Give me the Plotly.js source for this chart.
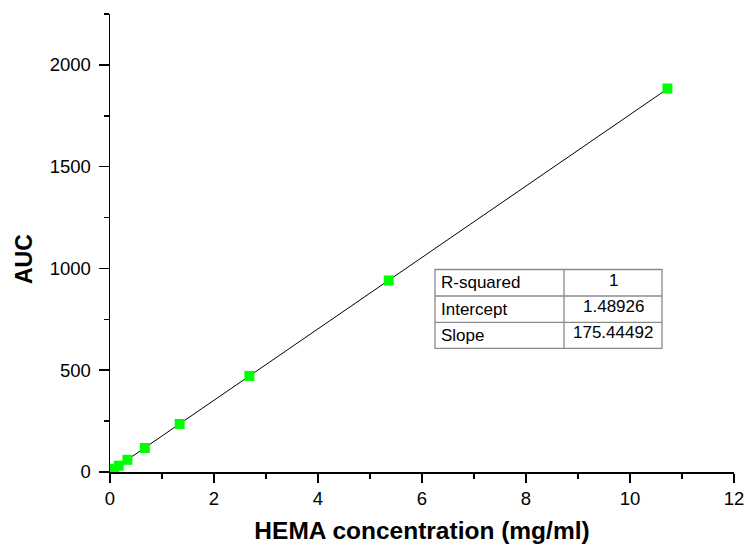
<!DOCTYPE html>
<html>
<head>
<meta charset="utf-8">
<script src="https://cdn.plot.ly/plotly-3.0.1.min.js"></script>
<style>html,body{margin:0;padding:0;background:#fff;}#chart{width:745px;height:548px;}</style>
</head>
<body>
<div id="chart"></div>
<script>
// Data
const concentration = [0.084, 0.168, 0.335, 0.67, 1.34, 2.68, 5.36, 10.72];
const auc = [16, 31, 60, 118, 236, 472, 941, 1884];
const fitRange = [0, 10.72];
const rSquared = "1";
const intercept = 1.48926;
const slope = 175.44492;
const tableLabels = ["R-squared", "Intercept", "Slope"];
const tableValues = [rSquared, intercept.toFixed(5), slope.toFixed(5)];
const xTitle = "HEMA concentration (mg/ml)";
const yTitle = "AUC";

const fitY = fitRange.map(x => intercept + slope * x);

const font = "Liberation Sans, Arial, sans-serif";

// table geometry (paper coords)
const W = 745, H = 548, L = 110, R = 11, T = 14, B = 76;
const pw = W - L - R, ph = H - T - B;
const px = p => (p - L) / pw;
const py = p => (H - B - p) / ph;
const tx0 = 435, tx1 = 564, tx2 = 662;
const rows = [269.5, 296, 322.3, 348.3];

const border = {color: "#8a8a8a", width: 1.3};
const shapes = [
  {type: "rect", xref: "paper", yref: "paper", x0: px(tx0), x1: px(tx2), y0: py(rows[3]), y1: py(rows[0]), line: border, fillcolor: "#ffffff", layer: "above"},
  {type: "line", xref: "paper", yref: "paper", x0: px(tx1), x1: px(tx1), y0: py(rows[3]), y1: py(rows[0]), line: border},
  {type: "line", xref: "paper", yref: "paper", x0: px(tx0), x1: px(tx2), y0: py(rows[1]), y1: py(rows[1]), line: border},
  {type: "line", xref: "paper", yref: "paper", x0: px(tx0), x1: px(tx2), y0: py(rows[2]), y1: py(rows[2]), line: border}
];
const annotations = [];
for (let i = 0; i < 3; i++) {
  const yc = py((rows[i] + rows[i + 1]) / 2);
  annotations.push({xref: "paper", yref: "paper", x: px(tx0 + 4), y: yc, xanchor: "left", yanchor: "middle",
    text: tableLabels[i], showarrow: false, font: {family: font, size: 17, color: "#000"}});
  annotations.push({xref: "paper", yref: "paper", x: px((tx1 + tx2) / 2), y: yc + 0.006, xanchor: "center", yanchor: "middle",
    text: tableValues[i], showarrow: false, font: {family: font, size: 17, color: "#000"}});
}
annotations.push({xref: "paper", yref: "paper", x: px(24), y: py(259), xanchor: "center", yanchor: "middle",
  text: "<b>" + yTitle + "</b>", textangle: -90, showarrow: false, font: {family: font, size: 23, color: "#000"}});

const traces = [
  {x: fitRange, y: fitY, mode: "lines", line: {color: "#000", width: 1}, hoverinfo: "skip", showlegend: false},
  {x: concentration, y: auc, mode: "markers", marker: {symbol: "square", size: 10, color: "#00ff00", line: {width: 0}},
   showlegend: false, cliponaxis: false}
];

const axisCommon = {
  showgrid: false, zeroline: false, showline: true, linecolor: "#000", linewidth: 1.5,
  ticks: "outside", ticklen: 9, tickwidth: 1.5, tickcolor: "#000",
  tickfont: {family: font, size: 18.5, color: "#000"}
};

const layout = {
  width: W, height: H,
  margin: {l: L, r: R, t: T, b: B, pad: 0},
  paper_bgcolor: "#fff", plot_bgcolor: "#fff",
  xaxis: Object.assign({}, axisCommon, {
    range: [0, 12], dtick: 2, tick0: 0,
    minor: {dtick: 1, ticks: "outside", ticklen: 5, tickwidth: 1.5, tickcolor: "#000"},
    title: {text: "<b>" + xTitle + "</b>", font: {family: font, size: 24.5, color: "#000"}, standoff: 14}
  }),
  yaxis: Object.assign({}, axisCommon, {
    range: [0, 2250], dtick: 500, tick0: 0, ticklen: 10, ticklabelstandoff: 4,
    minor: {dtick: 250, ticks: "outside", ticklen: 5, tickwidth: 1.5, tickcolor: "#000"}
  }),
  shapes: shapes,
  annotations: annotations
};

Plotly.newPlot("chart", traces, layout, {displayModeBar: false, staticPlot: true});
</script>
</body>
</html>
